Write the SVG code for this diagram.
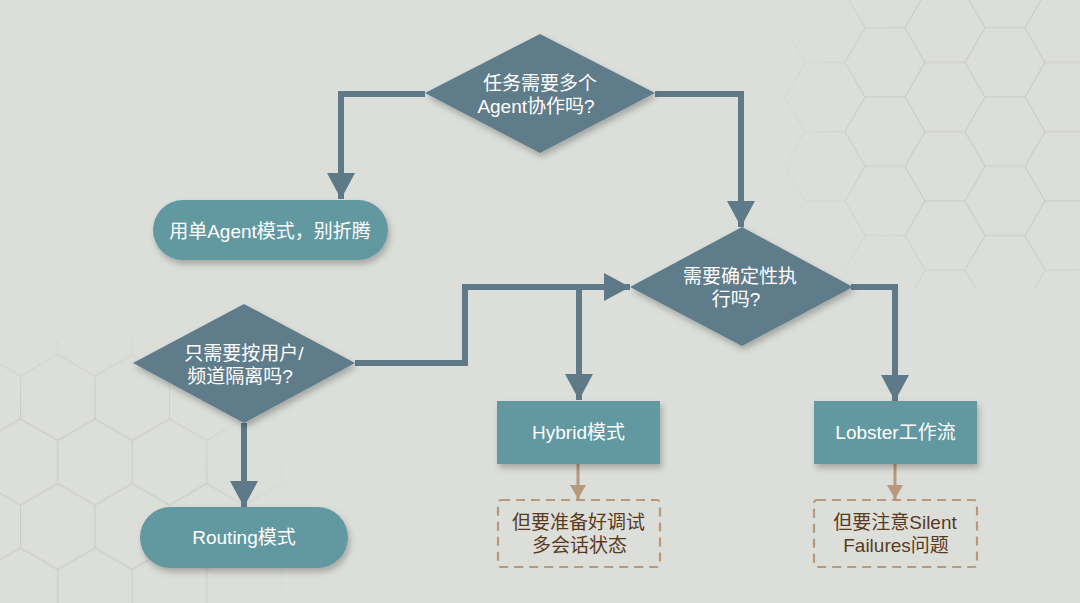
<svg xmlns="http://www.w3.org/2000/svg" width="1080" height="603" viewBox="0 0 1080 603">
<defs>
<style>
.dia{fill:#5e7c8a;filter:url(#sh)}
.box{fill:#62989f;filter:url(#sh)}
.note{fill:none;stroke:#b9997b;stroke-width:2.2;stroke-dasharray:9 6}
.wt{fill:#ffffff;font-family:"Liberation Sans","Noto Sans CJK SC",sans-serif;font-size:19px;text-anchor:middle}
.bt{fill:#5a3a1e;font-family:"Liberation Sans","Noto Sans CJK SC",sans-serif;font-size:19px;text-anchor:middle}
.con{fill:none;stroke:#5e7a89;stroke-width:6;marker-end:url(#ah)}
.bcon{fill:none;stroke:#b9997b;stroke-width:3;marker-end:url(#bh)}
.hex{fill:none;stroke:#cacbc3;stroke-width:1.1}
</style>
<filter id="sh" x="-20%" y="-20%" width="140%" height="150%">
<feDropShadow dx="2" dy="4" stdDeviation="3" flood-color="#000" flood-opacity="0.25"/>
</filter>
<marker id="ah" markerUnits="userSpaceOnUse" markerWidth="27" markerHeight="28" refX="26" refY="14" orient="auto">
<path d="M0,0 L26,14 L0,28 Z" fill="#5e7a89"/>
</marker>
<marker id="bh" markerUnits="userSpaceOnUse" markerWidth="15" markerHeight="16" refX="14" refY="8" orient="auto">
<path d="M0,0 L14,8 L0,16 Z" fill="#b9997b"/>
</marker>
<pattern id="hexTR" patternUnits="userSpaceOnUse" x="885" y="62.36" width="120" height="69.28">
<path class="hex" d="M0,34.64 H20 L40,0 H80 L100,34.64 H120 M20,34.64 L40,69.28 H80 L100,34.64"/>
</pattern>
<pattern id="hexBL" patternUnits="userSpaceOnUse" x="57.76" y="397.5" width="74.48" height="129">
<path class="hex" d="M37.24,0 V21.5 L0,43 V86 L37.24,107.5 V129 M37.24,21.5 L74.48,43 V86 L37.24,107.5"/>
</pattern>
<radialGradient id="gTR" gradientUnits="userSpaceOnUse" cx="1000" cy="110" r="240">
<stop offset="0" stop-color="#fff"/>
<stop offset="0.55" stop-color="#fff"/>
<stop offset="1" stop-color="#000"/>
</radialGradient>
<radialGradient id="gBL" gradientUnits="userSpaceOnUse" cx="70" cy="530" r="230">
<stop offset="0" stop-color="#fff"/>
<stop offset="0.55" stop-color="#fff"/>
<stop offset="1" stop-color="#000"/>
</radialGradient>
<mask id="mTR"><rect x="0" y="0" width="1080" height="603" fill="url(#gTR)"/></mask>
<mask id="mBL"><rect x="0" y="0" width="1080" height="603" fill="url(#gBL)"/></mask>
</defs>

<rect x="0" y="0" width="1080" height="603" fill="#dcded9"/>
<g id="background-hex">
<rect x="780" y="0" width="300" height="290" fill="url(#hexTR)" mask="url(#mTR)"/>
<rect x="0" y="340" width="310" height="263" fill="url(#hexBL)" mask="url(#mBL)"/>
</g>

<g id="connectors">
<path class="con" d="M425,94 H341 V199"/>
<path class="con" d="M655,94 H741 V227"/>
<path class="con" d="M355,363 H465 V287 H630"/>
<path class="con" d="M579,287 V400"/>
<path class="con" d="M851,287 H895 V401"/>
<path class="con" d="M244,423 V507"/>
<path class="bcon" d="M578,464 V499"/>
<path class="bcon" d="M895,464 V499"/>
</g>

<g id="q1">
<polygon class="dia" points="540,34 655,93 540,153 425,93"/>
<text class="wt" x="540" y="90">任务需要多个</text>
<text class="wt" x="536" y="113">Agent协作吗?</text>
</g>

<g id="single">
<rect class="box" x="153" y="200" width="235" height="60" rx="30"/>
<text class="wt" x="270" y="238">用单Agent模式，别折腾</text>
</g>

<g id="q2">
<polygon class="dia" points="742,227 853,287 742,346 630,287"/>
<text class="wt" x="740" y="283">需要确定性执</text>
<text class="wt" x="736" y="306">行吗?</text>
</g>

<g id="q3">
<polygon class="dia" points="244,304 355,363 244,423 133,363"/>
<text class="wt" x="244" y="360">只需要按用户/</text>
<text class="wt" x="240" y="383">频道隔离吗?</text>
</g>

<g id="hybrid">
<rect class="box" x="497" y="401" width="163" height="63"/>
<text class="wt" x="578.5" y="439">Hybrid模式</text>
</g>

<g id="lobster">
<rect class="box" x="814" y="401" width="163" height="63"/>
<text class="wt" x="895.5" y="439">Lobster工作流</text>
</g>

<g id="routing">
<rect class="box" x="140" y="507" width="208" height="61" rx="30.5"/>
<text class="wt" x="244" y="544">Routing模式</text>
</g>

<g id="note-hybrid">
<rect class="note" x="498" y="500" width="162" height="67" rx="3"/>
<text class="bt" x="578.5" y="529">但要准备好调试</text>
<text class="bt" x="579.5" y="552">多会话状态</text>
</g>

<g id="note-lobster">
<rect class="note" x="814" y="500" width="163" height="67" rx="3"/>
<text class="bt" x="895" y="529">但要注意Silent</text>
<text class="bt" x="896" y="552">Failures问题</text>
</g>
</svg>
